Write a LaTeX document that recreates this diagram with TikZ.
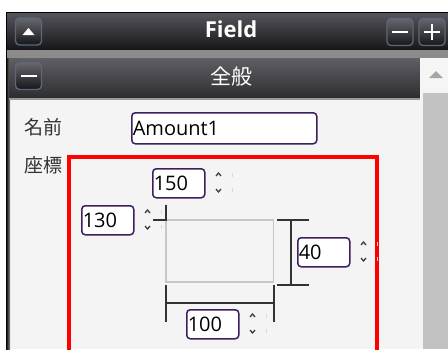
\documentclass[tikz,border=0pt]{standalone}
\usepackage{fontspec}
\setmainfont{Open Sans}
\newfontfamily\jpfont{Noto Sans CJK JP}
\usetikzlibrary{positioning}
\definecolor{barhi}{HTML}{58565E}
\definecolor{barlo}{HTML}{161618}
\definecolor{btnedge}{HTML}{5A687A}
\definecolor{boxpurple}{HTML}{3E1E5E}
\definecolor{panelbg}{HTML}{F4F4F4}
\definecolor{dimgray}{HTML}{333333}

\begin{document}
\begin{tikzpicture}[x=1pt,y=-1pt,
    numbox/.style={draw=boxpurple, line width=1.5pt, rounded corners=3.5pt, fill=white, anchor=north west,
        minimum height=29pt, text width=#1, inner xsep=1pt, inner ysep=0pt, align=left,
        font=\fontsize{20}{20}\selectfont},
    numbox/.default=50pt,
    btn/.style={draw=btnedge, line width=1.3pt, rounded corners=4pt, top color=barhi!90, bottom color=barlo,
        minimum width=26pt, minimum height=27pt, inner sep=0pt},
    spinarrow/.style={black!75, line width=1.3pt},
    spinfaint/.style={black!15, line width=0.8pt},
    dimline/.style={dimgray, line width=1.8pt}]
    \useasboundingbox (0,0) rectangle (448,349);
    \fill[white] (0,0) rectangle (448,349);
    % frame and bars
    \fill[panelbg] (9,98) rectangle (420,349);
    \shade[left color=black, right color=black!45] (6,12) rectangle (10,349);
    \shade[top color=barhi, bottom color=barlo] (7,12) rectangle (448,50);
    \draw[black, line width=1pt] (7,12.5) -- (448,12.5);
    \fill[black!45] (7,50) rectangle (448,58);
    \shade[top color=barhi!95, bottom color=barlo!90!white] (9,58) rectangle (420,98);
    \fill[black!40] (9,98) rectangle (420,100);
    \fill[black!4] (420,58) rectangle (448,349);
    \fill[black!24] (423,93) rectangle (448,349);
    \fill[black!35] (436,71) -- (443,78) -- (429,78) -- cycle;
    \node[white, font=\fontsize{22}{22}\selectfont\bfseries] (title) at (231,29) {Field};
    \node[white, font=\jpfont\fontsize{21}{21}\selectfont] (general) at (231,77) {全般};
    % buttons
    \foreach \nm/\x/\y in {upbtn/28.5/31.5, minbtn/400/32, plusbtn/432/32, secbtn/28.5/76}
        \node[btn] (\nm) at (\x,\y) {};
    \fill[white] (upbtn.center) ++(-6,3.5) -- ++(12,0) -- ++(-6,-7) -- cycle;
    \foreach \nm in {minbtn, plusbtn, secbtn}
        \draw[white, line width=2.4pt] (\nm.center) ++(-8,0) -- ++(16,0);
    \draw[white, line width=2.4pt] (plusbtn.center) ++(0,-8) -- ++(0,16);
    % fields
    \node[anchor=west, font=\jpfont\fontsize{19}{19}\selectfont, text=black!80, inner sep=0pt] (namelbl) at (24,127) {名前};
    \node[anchor=west, font=\jpfont\fontsize{19}{19}\selectfont, text=black!80, inner sep=0pt] (poslbl) at (24,165) {座標};
    \node[numbox=183pt, minimum height=31pt] (name) at (131,112) {Amount1};
    \draw[red, line width=4pt] (69,352) -- (69,157) -- (377,157) -- (377,352);
    \foreach \nm/\x/\y/\v in {topbox/152/168/150, leftbox/81/205/130, hgtbox/297/237/40, widbox/186/309/100} {
        \node[numbox] (\nm) at (\x,\y) {\v};
        \draw[spinarrow] ([xshift=10.5pt,yshift=-8pt]\nm.north east) -- ++(2.5,-3) -- ++(2.5,3);
        \draw[spinarrow] ([xshift=10.5pt,yshift=-21pt]\nm.north east) -- ++(2.5,3) -- ++(2.5,-3);
        \draw[spinfaint] ([xshift=27pt,yshift=-5pt]\nm.north east) -- ++(0,4);
        \draw[spinfaint] ([xshift=27pt,yshift=-20pt]\nm.north east) -- ++(0,4);
    }
    % position box and dimensions
    \coordinate (tl) at (166,220);
    \coordinate (br) at (273.5,282);
    \draw[black!22, line width=1.6pt] (tl) rectangle (br);
    \draw[dimline] (166,205) -- (tl) -- (153,220);
    \draw[dimline] (277,220) -- (309,220);
    \draw[dimline] (277,285) -- (309,285);
    \draw[dimline] (291,220) -- (291,285);
    \draw[dimline] (166,285) -- (166,322);
    \draw[dimline] (274,285) -- (274,322);
    \draw[dimline] (166,303) -- (274,303);
\end{tikzpicture}
\end{document}
